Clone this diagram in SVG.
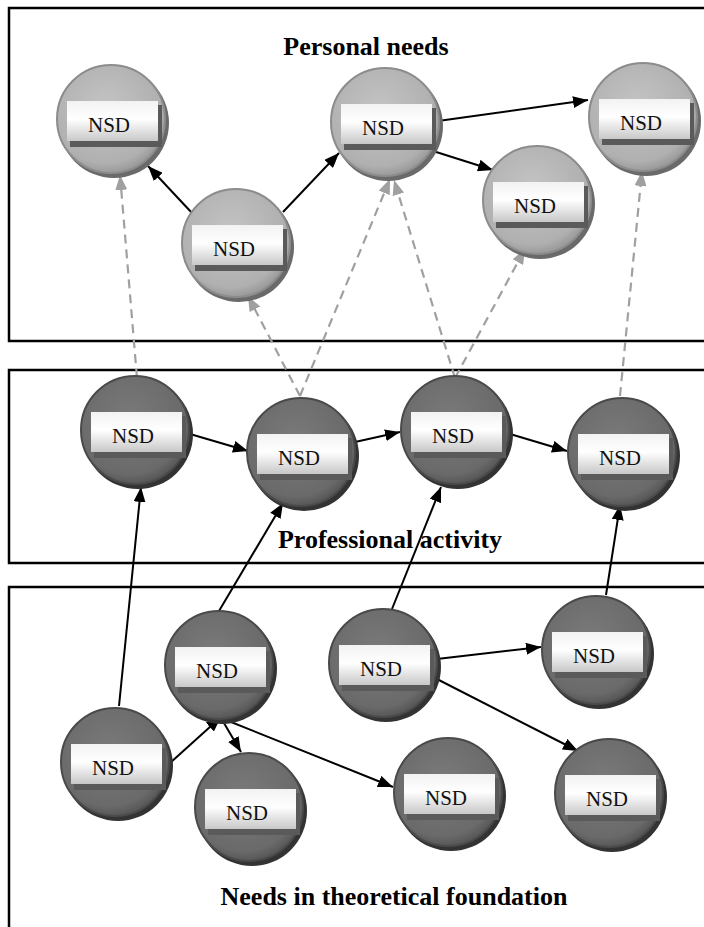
<svg xmlns="http://www.w3.org/2000/svg" width="704" height="927" viewBox="0 0 704 927">
<defs>
<radialGradient id="gLight" cx="0.45" cy="0.4" r="0.6">
<stop offset="0" stop-color="#c4c4c4"/><stop offset="0.85" stop-color="#b0b0b0"/><stop offset="1" stop-color="#9a9a9a"/>
</radialGradient>
<radialGradient id="gDark" cx="0.45" cy="0.4" r="0.6">
<stop offset="0" stop-color="#7a7a7a"/><stop offset="0.85" stop-color="#6a6a6a"/><stop offset="1" stop-color="#575757"/>
</radialGradient>
<linearGradient id="gLabel" x1="0" y1="0" x2="0" y2="1">
<stop offset="0" stop-color="#f2f2f2"/><stop offset="0.45" stop-color="#ffffff"/><stop offset="1" stop-color="#c8c8c8"/>
</linearGradient>
<marker id="ah" markerUnits="userSpaceOnUse" markerWidth="16" markerHeight="12" refX="15" refY="6" orient="auto">
<path d="M0,0 L15,6 L0,12 z" fill="#000"/>
</marker>
<marker id="ahg" markerUnits="userSpaceOnUse" markerWidth="16" markerHeight="12" refX="15" refY="6" orient="auto">
<path d="M0,0 L15,6 L0,12 z" fill="#a0a0a0"/>
</marker>
<g id="lblBox">
<rect x="-41" y="-14" width="92" height="42" fill="#5a5a5a"/>
<rect x="-44" y="-18" width="91" height="40" fill="url(#gLabel)"/>
</g>
</defs>
<style>
.frame{fill:none;stroke:#000;stroke-width:2.5}
.title{font-family:"Liberation Serif","Times New Roman",serif;font-weight:bold;font-size:26px;text-anchor:middle;fill:#000}
.lbl{font-family:"Liberation Serif","Times New Roman",serif;font-size:21px;text-anchor:middle;fill:#111}
.shL{fill:#6a6a6a}
.shD{fill:#333}
.cL{fill:url(#gLight);stroke:#8c8c8c;stroke-width:2}
.cD{fill:url(#gDark);stroke:#4a4a4a;stroke-width:2}
.solid{stroke:#000;stroke-width:2;fill:none;marker-end:url(#ah)}
.dash{stroke:#a0a0a0;stroke-width:2.2;fill:none;stroke-dasharray:9,6;marker-end:url(#ahg)}
</style>
<rect width="704" height="927" fill="#fff"/>
<g id="frames">
<rect class="frame" x="9" y="8" width="710" height="333"/>
<rect class="frame" x="9" y="370" width="710" height="193"/>
<rect class="frame" x="9" y="587" width="710" height="360"/>
<text class="title" x="366" y="55">Personal needs</text>
<text class="title" x="390" y="548">Professional activity</text>
<text class="title" x="394" y="905">Needs in theoretical foundation</text>
</g>
<g id="connectors">
<line class="dash" x1="137" y1="378" x2="120" y2="175"/>
<line class="dash" x1="300" y1="396" x2="248" y2="296"/>
<line class="dash" x1="300" y1="396" x2="390" y2="179"/>
<line class="dash" x1="455" y1="378" x2="394" y2="180"/>
<line class="dash" x1="455" y1="378" x2="525" y2="249"/>
<line class="dash" x1="620" y1="396" x2="642" y2="171"/>
<line class="solid" x1="192" y1="213" x2="148" y2="166"/>
<line class="solid" x1="283" y1="212" x2="339" y2="153"/>
<line class="solid" x1="438" y1="121" x2="588" y2="100"/>
<line class="solid" x1="433" y1="151" x2="493" y2="170"/>
<line class="solid" x1="190" y1="434" x2="248" y2="451"/>
<line class="solid" x1="355" y1="442" x2="400" y2="432"/>
<line class="solid" x1="510" y1="434" x2="567" y2="451"/>
<line class="solid" x1="119" y1="706" x2="141" y2="487"/>
<line class="solid" x1="219" y1="611" x2="283" y2="503"/>
<line class="solid" x1="392" y1="609" x2="441" y2="487"/>
<line class="solid" x1="606" y1="595" x2="620" y2="505"/>
<line class="solid" x1="170" y1="763" x2="221" y2="717"/>
<line class="solid" x1="221" y1="718" x2="241" y2="752"/>
<line class="solid" x1="221" y1="718" x2="393" y2="787"/>
<line class="solid" x1="437" y1="659" x2="541" y2="647"/>
<line class="solid" x1="433" y1="677" x2="578" y2="751"/>
</g>
<g id="T1" transform="translate(111,119)"><circle class="shL" cx="3" cy="4" r="55"/><circle class="cL" r="54"/><use href="#lblBox"/><text class="lbl" x="-2" y="13">NSD</text></g>
<g id="T2" transform="translate(236,243)"><circle class="shL" cx="3" cy="4" r="55"/><circle class="cL" r="54"/><use href="#lblBox"/><text class="lbl" x="-2" y="13">NSD</text></g>
<g id="T3" transform="translate(385,122)"><circle class="shL" cx="3" cy="4" r="55"/><circle class="cL" r="54"/><use href="#lblBox"/><text class="lbl" x="-2" y="13">NSD</text></g>
<g id="T4" transform="translate(537,200)"><circle class="shL" cx="3" cy="4" r="55"/><circle class="cL" r="54"/><use href="#lblBox"/><text class="lbl" x="-2" y="13">NSD</text></g>
<g id="T5" transform="translate(643,117)"><circle class="shL" cx="3" cy="4" r="55"/><circle class="cL" r="54"/><use href="#lblBox"/><text class="lbl" x="-2" y="13">NSD</text></g>
<g id="M1" transform="translate(135,430)"><circle class="shD" cx="3" cy="4" r="55"/><circle class="cD" r="54"/><use href="#lblBox"/><text class="lbl" x="-2" y="13">NSD</text></g>
<g id="M2" transform="translate(301,452)"><circle class="shD" cx="3" cy="4" r="55"/><circle class="cD" r="54"/><use href="#lblBox"/><text class="lbl" x="-2" y="13">NSD</text></g>
<g id="M3" transform="translate(455,430)"><circle class="shD" cx="3" cy="4" r="55"/><circle class="cD" r="54"/><use href="#lblBox"/><text class="lbl" x="-2" y="13">NSD</text></g>
<g id="M4" transform="translate(622,452)"><circle class="shD" cx="3" cy="4" r="55"/><circle class="cD" r="54"/><use href="#lblBox"/><text class="lbl" x="-2" y="13">NSD</text></g>
<g id="B1" transform="translate(115,762)"><circle class="shD" cx="3" cy="4" r="55"/><circle class="cD" r="54"/><use href="#lblBox"/><text class="lbl" x="-2" y="13">NSD</text></g>
<g id="B2" transform="translate(219,665)"><circle class="shD" cx="3" cy="4" r="55"/><circle class="cD" r="54"/><use href="#lblBox"/><text class="lbl" x="-2" y="13">NSD</text></g>
<g id="B3" transform="translate(249,807)"><circle class="shD" cx="3" cy="4" r="55"/><circle class="cD" r="54"/><use href="#lblBox"/><text class="lbl" x="-2" y="13">NSD</text></g>
<g id="B4" transform="translate(383,663)"><circle class="shD" cx="3" cy="4" r="55"/><circle class="cD" r="54"/><use href="#lblBox"/><text class="lbl" x="-2" y="13">NSD</text></g>
<g id="B5" transform="translate(596,650)"><circle class="shD" cx="3" cy="4" r="55"/><circle class="cD" r="54"/><use href="#lblBox"/><text class="lbl" x="-2" y="13">NSD</text></g>
<g id="B6" transform="translate(448,792)"><circle class="shD" cx="3" cy="4" r="55"/><circle class="cD" r="54"/><use href="#lblBox"/><text class="lbl" x="-2" y="13">NSD</text></g>
<g id="B7" transform="translate(609,793)"><circle class="shD" cx="3" cy="4" r="55"/><circle class="cD" r="54"/><use href="#lblBox"/><text class="lbl" x="-2" y="13">NSD</text></g>
</svg>
